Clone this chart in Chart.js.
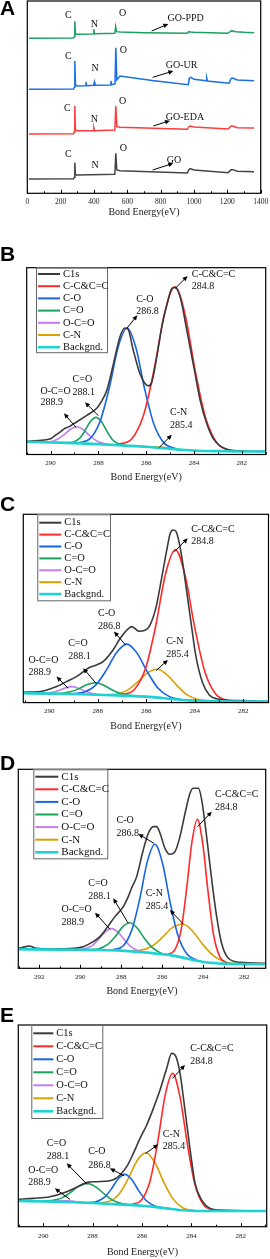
<!DOCTYPE html>
<html>
<head>
<meta charset="utf-8">
<script src="https://cdn.jsdelivr.net/npm/chart.js@4.4.1/dist/chart.umd.min.js"></script>
<style>
  body { margin: 0; background: #fff; }
  #page { position: relative; width: 270px; height: 1259px; overflow: hidden; }
  canvas { position: absolute; left: 0; }
</style>
</head>
<body>
<div id="page">
  <canvas id="panelA" width="270" height="228" style="top:0px"></canvas>
  <canvas id="panelB" width="270" height="262" style="top:228px"></canvas>
  <canvas id="panelC" width="270" height="255" style="top:490px"></canvas>
  <canvas id="panelD" width="270" height="257" style="top:745px"></canvas>
  <canvas id="panelE" width="270" height="257" style="top:1002px"></canvas>
</div>
<script>
// XPS spectra: survey (A) and C1s fits (B-E)

// ---- A: survey spectra, [bond energy, intensity a.u.] ----
const surveyNames = ["GO-PPD", "GO-UR", "GO-EDA", "GO"];
const goPPD = [[10,465],[275,466],[282,470],[285,516],[289,478],[300,477],[395,478],[399,492],[403,479],[525,480],[530,500],[535,485],[560,484],[700,482],[960,480],[968,485],[978,484],[1000,483],[1200,480],[1215,484],[1225,488],[1250,485],[1300,483],[1360,482]];
const goUR = [[10,312],[278,313],[282,318],[285,397],[289,325],[300,322],[348,323],[352,334],[356,323],[398,324],[402,334],[406,324],[498,325],[502,337],[506,326],[526,328],[531,437],[537,340],[556,352],[760,338],[966,326],[972,345],[982,348],[1000,342],[1072,338],[1076,346],[1080,337],[1210,330],[1222,344],[1232,346],[1260,340],[1360,338]];
const goEDA = [[10,178],[278,179],[282,184],[285,262],[289,190],[300,188],[396,188],[400,196],[404,188],[525,190],[531,262],[537,200],[556,198],[960,192],[968,199],[978,202],[1000,199],[1205,193],[1222,202],[1232,202],[1260,197],[1360,196]];
const goPlain = [[10,43],[278,44],[282,48],[285,92],[289,55],[300,55],[525,57],[531,120],[537,70],[556,68],[960,61],[968,70],[978,74],[1000,70],[1205,62],[1222,71],[1232,71],[1260,66],[1360,65]];
const surveyTicks = [0, 200, 400, 600, 800, 1000, 1200, 1400];
const surveyMinor = [100, 300, 500, 700, 900, 1100, 1300];

// ---- C1s fits ----
const fitNames = ["C1s", "C-C&C=C", "C-O", "C=O", "O-C=O", "C-N", "Backgnd."];
const c1sTicks = [282, 284, 286, 288, 290];
const c1sMinor = [281, 283, 285, 287, 289, 291];
const c1sTicksD = [282, 284, 286, 288, 290, 292];
const c1sMinorD = [281, 283, 285, 287, 289, 291, 293];

// B
const bC1s = [[281,9],[282.07,11],[282.63,16],[283.18,46],[283.46,91],[283.74,161],[283.98,251],[284.3,371],[284.58,471],[284.8,499],[284.93,496],[285.14,445],[285.35,380],[285.56,290],[285.77,215],[285.9,205],[286.05,212],[286.26,241],[286.54,311],[286.75,373],[286.89,378],[287.1,351],[287.37,271],[287.65,191],[287.93,152],[288.07,138],[288.5,116],[289.05,91],[289.2,84],[289.45,76],[289.55,70],[289.75,60],[290.03,46],[290.5,42],[291,39]];
const bCC = [[282.42,11],[283.0,31],[283.5,106],[283.94,247],[284.37,418],[284.8,501],[285.23,423],[285.66,257],[286.1,120],[286.6,47],[287.18,30]];
const bCO = [[284.75,17.5],[285.25,34],[285.68,91],[286.06,194],[286.43,319],[286.8,378],[287.17,322],[287.54,200],[287.92,101],[288.35,47.5],[288.85,35]];
const bCdO = [[286.85,27],[287.15,31.5],[287.42,45],[287.64,69],[287.87,98],[288.1,111],[288.33,99],[288.56,71.5],[288.78,49],[289.05,37.5],[289.35,35]];
const bOCO = [[287.41,29],[287.77,32.5],[288.09,41.5],[288.36,56],[288.63,74],[288.9,83],[289.17,75.5],[289.44,59],[289.71,45.5],[290.03,38],[290.39,37]];
const bCN = [[284.6,15],[284.95,18],[285.2,20.5],[285.4,22.5],[285.65,23],[285.9,23],[286.3,24.5]];
const bBg = [[281,9],[282,9],[283,10],[283.5,10.5],[284,12],[284.5,14],[285,17],[285.5,20],[286,23],[287,27],[288,31],[289,34],[290,36],[291,38]];

// C
const cC1s = [[280.96,3],[282.16,6],[282.99,10],[283.4,23],[283.67,58],[283.95,138],[284.15,238],[284.36,348],[284.56,448],[284.77,513],[284.9,518],[285.01,508],[285.18,448],[285.38,368],[285.59,288],[285.85,232],[286.05,217],[286.3,214],[286.6,228],[286.75,221],[287.1,190],[287.37,158],[287.78,123],[288.05,113],[288.33,106],[288.88,78],[289.29,63],[289.7,48],[290.25,35],[291.07,31]];
const cCC = [[282.59,5.5],[283.12,24],[283.59,94],[284.0,225],[284.4,382],[284.8,459],[285.2,388],[285.6,234],[286.01,107],[286.48,40],[287.01,23]];
const cCO = [[284.49,8],[285.05,18],[285.54,45.5],[285.96,93],[286.38,148.5],[286.8,175.5],[287.22,150.5],[287.64,98],[288.06,54.5],[288.55,31.5],[289.11,26.5]];
const cCdO = [[286.28,19.7],[286.72,22],[287.11,28.5],[287.44,39.5],[287.77,53],[288.1,59.5],[288.43,54],[288.76,42.5],[289.09,33],[289.48,28],[289.92,27.2]];
const cOCO = [[287.66,22.6],[288.0,24.5],[288.29,28.4],[288.55,35.2],[288.8,43.4],[289.05,48],[289.3,44.9],[289.55,37.7],[289.81,31.4],[290.1,28.5],[290.44,27.6]];
const cCN = [[283.31,4.9],[283.85,9.2],[284.33,24],[284.73,51],[285.14,83.5],[285.55,100],[285.96,88.5],[286.37,61],[286.77,37.5],[287.25,25.2],[287.79,23.4]];
const cBg = [[280.96,3],[283,4],[284,6],[284.5,8],[285,11],[285.5,15],[286,18],[287,21],[288,23.5],[289,26],[290,27],[291.07,28]];

// D
const dC1s = [[280.96,15],[282.2,18],[282.78,30],[283.11,75],[283.35,155],[283.59,265],[283.84,395],[284.08,505],[284.24,540],[284.49,540],[284.65,525],[284.89,465],[285.14,395],[285.38,350],[285.63,342],[285.87,360],[286.11,405],[286.28,425],[286.44,425],[286.68,405],[286.93,355],[287.25,275],[287.5,240],[287.66,215],[287.9,185],[288.31,155],[288.72,120],[289.04,95],[289.37,80],[289.85,65],[290.34,60],[291.3,58],[292.13,60],[292.5,67],[292.65,65],[293.02,60]];
const dCC = [[282.84,15.3],[283.19,33.7],[283.5,100],[283.76,224.5],[284.03,374],[284.29,447],[284.55,380.5],[284.82,236],[285.08,116],[285.39,55.2],[285.74,41.8]];
const dCO = [[284.31,24],[284.81,43.4],[285.24,99],[285.62,198],[285.99,315],[286.36,372],[286.73,320],[287.1,208],[287.48,116],[287.91,67],[288.41,55.4]];
const dCdO = [[285.6,38.9],[286.08,46.2],[286.5,62.5],[286.86,88.5],[287.22,120.5],[287.58,136.5],[287.94,123.5],[288.3,94.5],[288.66,71.5],[289.08,58.7],[289.56,55.6]];
const dOCO = [[286.72,47.3],[287.14,51.9],[287.52,64],[287.83,84],[288.15,107.5],[288.47,119],[288.79,108.5],[289.11,87],[289.42,68],[289.8,58.2],[290.22,55.8]];
const dCN = [[282.2,12.9],[282.87,17.9],[283.47,36],[283.98,68],[284.49,109],[285.0,133],[285.51,122],[286.02,91],[286.53,65.5],[287.13,53.4],[287.8,52.4]];
const dBg = [[280.96,12],[282,12.5],[283,14],[283.5,16],[284,19],[284.5,25],[285,32],[285.5,38],[286,42],[286.5,45.5],[287,48],[287.4,50],[288,53],[289,55],[290,55.5],[291,56],[293.02,57]];

// E
const eC1s = [[280.95,47],[282.84,50],[283.24,55],[283.58,80],[283.85,130],[284.05,230],[284.26,350],[284.46,460],[284.66,515],[284.8,520],[285.0,475],[285.27,410],[285.54,355],[285.81,305],[286.08,265],[286.35,220],[286.62,180],[286.89,155],[287.1,143],[287.3,138],[287.84,135],[288.22,133],[288.38,128],[289.05,105],[289.73,90],[290.4,85],[291.01,82]];
const eCC = [[283.11,48.7],[283.51,65.4],[283.86,128],[284.16,246.5],[284.46,389.5],[284.76,460],[285.06,395.5],[285.36,256],[285.66,141],[286.01,81],[286.41,66.7]];
const eCO = [[285.14,56.4],[285.51,63],[285.84,79.5],[286.13,107.5],[286.41,141],[286.69,157],[286.97,143],[287.25,112],[287.54,87],[287.87,74.5],[288.24,71.9]];
const eCdO = [[286.31,64.8],[286.77,68.6],[287.18,79],[287.52,97.7],[287.87,119],[288.22,130],[288.57,121],[288.92,101.7],[289.26,85.7],[289.67,78.1],[290.13,76.3]];
const eOCO = [[288.3,72.5],[288.65,74.5],[288.95,78],[289.25,78],[289.6,76],[290,76.2]];
const eCN = [[283.86,48.2],[284.34,56],[284.76,85],[285.12,134],[285.48,192.5],[285.84,221.5],[286.2,198],[286.56,144],[286.92,99],[287.34,75.5],[287.82,71.2]];
const eBg = [[280.95,47],[283,47],[284,48],[284.5,50],[285,55],[285.5,59],[286,63],[286.5,65.5],[287,67],[288,71],[289,74],[290,76],[291.01,77]];

// ---- styling ----
const serif = '"Liberation Serif", "Times New Roman", serif';
const surveyColors = ["#1aa060", "#1a6fe6", "#ff3a3a", "#444444"];
const fitColors = ["#3a3a3a", "#ff2a2a", "#1766e0", "#19a25c", "#c27ef0", "#d9a000", "#1ed2d2"];

Chart.defaults.font.family = serif;

function toXY(pairs) {
    return pairs.map(p => ({ x: p[0], y: p[1] }));
}

// frame, inward ticks, labels, legend and arrows
const decor = {
    id: "decor",
    afterDraw(chart, args, o) {
        const ctx = chart.ctx;
        const a = chart.chartArea;
        const px = v => chart.scales.x.getPixelForValue(v);
        const py = v => chart.scales.y.getPixelForValue(v);
        ctx.save();

        ctx.strokeStyle = "#000";
        ctx.lineWidth = 1.2;
        ctx.strokeRect(a.left, a.top, a.right - a.left, a.bottom - a.top);

        ctx.lineWidth = 1;
        ctx.beginPath();
        o.minor.forEach(v => {
            const x = Math.round(px(v)) + 0.5;
            ctx.moveTo(x, a.bottom); ctx.lineTo(x, a.bottom - 2);
        });
        o.major.forEach(v => {
            const x = Math.round(px(v)) + 0.5;
            ctx.moveTo(x, a.bottom); ctx.lineTo(x, a.bottom - 3.5);
        });
        ctx.stroke();

        ctx.fillStyle = "#222";
        ctx.textAlign = "center";
        ctx.textBaseline = "middle";
        ctx.font = o.tickFont + "px " + serif;
        o.major.forEach(v => ctx.fillText(String(v), px(v), a.bottom + o.tickGap));
        ctx.font = "10px " + serif;
        ctx.fillText("Bond Energy(eV)", (a.left + a.right) / 2, a.bottom + o.titleGap);

        ctx.fillStyle = "#000";
        ctx.font = "bold 21px \"Liberation Sans\", Arial, sans-serif";
        ctx.textAlign = "left";
        ctx.textBaseline = "alphabetic";
        ctx.fillText(o.letter, 0, o.letterBase);

        // annotation text
        ctx.font = "10px " + serif;
        ctx.textBaseline = "middle";
        ctx.fillStyle = "#111";
        o.labels.forEach(l => {
            ctx.textAlign = l[3] || "left";
            ctx.fillText(l[0], px(l[1]), py(l[2]));
        });

        // arrows (tail on the curve, head at the label)
        ctx.strokeStyle = "#000";
        ctx.fillStyle = "#000";
        ctx.lineWidth = 1;
        o.arrows.forEach(ar => {
            const x1 = px(ar[0]), y1 = py(ar[1]), x2 = px(ar[2]), y2 = py(ar[3]);
            const ang = Math.atan2(y2 - y1, x2 - x1);
            ctx.beginPath();
            ctx.moveTo(x1, y1);
            ctx.lineTo(x2 - 3 * Math.cos(ang), y2 - 3 * Math.sin(ang));
            ctx.stroke();
            ctx.beginPath();
            ctx.moveTo(x2, y2);
            ctx.lineTo(x2 - 5 * Math.cos(ang) + 2.3 * Math.sin(ang), y2 - 5 * Math.sin(ang) - 2.3 * Math.cos(ang));
            ctx.lineTo(x2 - 5 * Math.cos(ang) - 2.3 * Math.sin(ang), y2 - 5 * Math.sin(ang) + 2.3 * Math.cos(ang));
            ctx.closePath();
            ctx.fill();
        });

        // legend box
        if (o.legend) {
            const L = o.legend;
            const lx = a.left + L.dx, ly = a.top + L.dy;
            ctx.fillStyle = "#fff";
            ctx.fillRect(lx, ly, L.w, L.h);
            ctx.strokeStyle = "#666";
            ctx.lineWidth = 1;
            ctx.strokeRect(lx + 0.5, ly + 0.5, L.w, L.h);
            ctx.font = L.font + "px " + serif;
            ctx.textAlign = "left";
            ctx.textBaseline = "middle";
            chart.data.datasets.forEach((ds, i) => {
                const yy = ly + L.row0 + i * L.step;
                ctx.strokeStyle = ds.borderColor;
                ctx.lineWidth = i === 6 ? 2.6 : 2;
                ctx.beginPath();
                ctx.moveTo(lx + 2, yy); ctx.lineTo(lx + L.line, yy);
                ctx.stroke();
                ctx.fillStyle = "#111";
                ctx.fillText(ds.label, lx + L.line + 3, yy);
            });
        }
        ctx.restore();
    }
};

function makeChart(id, datasets, xr, ymax, pad, deco) {
    return new Chart(document.getElementById(id).getContext("2d"), {
        type: "scatter",
        data: { datasets: datasets },
        options: {
            responsive: false,
            animation: false,
            events: [],
            layout: { padding: pad },
            elements: { point: { radius: 0 } },
            plugins: { legend: { display: false }, tooltip: { enabled: false }, decor: deco },
            scales: {
                x: { type: "linear", display: false, min: xr[0], max: xr[1], reverse: xr[2] },
                y: { display: false, min: 0, max: ymax }
            }
        },
        plugins: [decor]
    });
}

function fitSets(series) {
    return series.map((s, i) => ({
        label: fitNames[i],
        data: toXY(s),
        showLine: true,
        borderColor: fitColors[i],
        borderWidth: i === 6 ? 2.6 : 1.6,
        cubicInterpolationMode: "monotone",
        order: i === 6 ? -1 : i
    }));
}

// Panel A
makeChart("panelA",
    [goPPD, goUR, goEDA, goPlain].map((s, i) => ({
        label: surveyNames[i],
        data: toXY(s),
        showLine: true,
        borderColor: surveyColors[i],
        borderWidth: 1.5,
        tension: 0
    })),
    [0, 1400, false], 577,
    { left: 27.3, right: 9.3, top: 1, bottom: 34.7 },
    {
        major: surveyTicks, minor: surveyMinor, tickFont: 7.5, tickGap: 9, titleGap: 19.5,
        letter: "A", letterBase: 15,
        labels: [["C",246,533,"center"],["N",402,508,"center"],["O",572,540,"center"],["GO-PPD",950,525,"center"],
                 ["C",246,410,"center"],["N",406,375,"center"],["O",576,428,"center"],["GO-UR",926,383,"center"],
                 ["C",240,255,"center"],["N",402,223,"center"],["O",572,275,"center"],["GO-EDA",946,228,"center"],
                 ["C",246,117,"center"],["N",406,83,"center"],["O",576,135,"center"],["GO",880,100,"center"]],
        arrows: [[746,487,846,508],[752,348,876,367],[756,202,856,218],[752,70,876,90]]
    });

// Panel B
makeChart("panelB", fitSets([bC1s, bCC, bCO, bCdO, bOCO, bCN, bBg]),
    [281, 291, true], 558,
    { left: 26.7, right: 4.3, top: 39.7, bottom: 35.5 },
    {
        major: c1sTicks, minor: c1sMinor, tickFont: 7, tickGap: 8.5, titleGap: 23,
        letter: "B", letterBase: 33,
        legend: { dx: 9.3, dy: 0, w: 71, h: 84.5, row0: 6.3, step: 12.2, line: 24, font: 10.5 },
        labels: [["C-C&C=C",284.09,539],["284.8",284.09,503],["C-O",286.42,464],["286.8",286.42,428],
                 ["C=O",289.08,223],["288.1",289.08,186],["O-C=O",290.42,189],["288.9",290.42,155],
                 ["C-N",285.0,126],["285.4",285.0,88]],
        arrows: [[284.79,496,284.27,533],[286.82,376,286.37,416],[288.0,116,288.56,156],[288.94,81,289.44,123],[285.45,21,284.93,59]]
    });

// Panel C
makeChart("panelC", fitSets([cC1s, cCC, cCO, cCdO, cOCO, cCN, cBg]),
    [280.96, 291.07, true], 565,
    { left: 23.3, right: 1.5, top: 24.3, bottom: 42.4 },
    {
        major: c1sTicks, minor: c1sMinor, tickFont: 7, tickGap: 9, titleGap: 24,
        letter: "C", letterBase: 21,
        legend: { dx: 14, dy: 0, w: 72.7, h: 86, row0: 8.4, step: 11.9, line: 24, font: 10.5 },
        labels: [["C-C&C=C",284.15,521],["284.8",284.15,483],["C-O",287.99,268],["286.8",287.99,230],
                 ["C=O",289.22,178],["288.1",289.22,138],["O-C=O",290.86,128],["288.9",290.86,90],
                 ["C-N",285.18,183],["285.4",285.18,146]],
        arrows: [[284.84,453,284.29,493],[286.85,173,287.33,213],[288.05,56,288.6,103],[289.22,43,289.7,78],[285.59,96,285.11,128]]
    });

// Panel D
makeChart("panelD", fitSets([dC1s, dCC, dCO, dCdO, dOCO, dCN, dBg]),
    [280.96, 293.02, true], 597,
    { left: 18.3, right: 4.3, top: 24.3, bottom: 33.7 },
    {
        major: c1sTicksD, minor: c1sMinorD, tickFont: 7, tickGap: 8.5, titleGap: 23.5,
        letter: "D", letterBase: 25,
        legend: { dx: 15, dy: 0, w: 74, h: 89, row0: 7.4, step: 12.6, line: 25, font: 11 },
        labels: [["C-C&C=C",283.43,522],["284.8",283.43,483],["C-O",288.23,443],["286.8",288.23,405],
                 ["C=O",289.61,255],["288.1",289.61,217],["O-C=O",290.91,177],["288.9",290.91,138],
                 ["C-N",286.81,225],["285.4",286.81,185]],
        arrows: [[284.28,425,283.59,470],[286.41,375,287.17,403],[287.66,135,288.39,210],[288.55,117,289.28,167],[284.98,133,285.63,175]]
    });

// Panel E
makeChart("panelE", fitSets([eC1s, eCC, eCO, eCdO, eOCO, eCN, eBg]),
    [280.95, 291.01, true], 605,
    { left: 18.3, right: 3.3, top: 23, bottom: 32.3 },
    {
        major: c1sTicks, minor: c1sMinor, tickFont: 7, tickGap: 9.3, titleGap: 26,
        letter: "E", letterBase: 20,
        legend: { dx: 13, dy: 0, w: 71, h: 93, row0: 8.3, step: 13, line: 22, font: 10.5 },
        labels: [["C-C&C=C",284.05,535],["284.8",284.05,497],["C-N",285.16,277],["285.4",285.16,240],
                 ["C-O",288.18,225],["286.8",288.18,185],["C=O",289.86,250],["288.1",289.86,210],
                 ["O-C=O",290.61,170],["288.9",290.61,132]],
        arrows: [[284.76,445,284.26,485],[285.85,220,285.34,247],[286.73,153,287.3,175],[288.22,127,289.05,190],[288.92,82,289.53,115]]
    });
</script>
</body>
</html>
